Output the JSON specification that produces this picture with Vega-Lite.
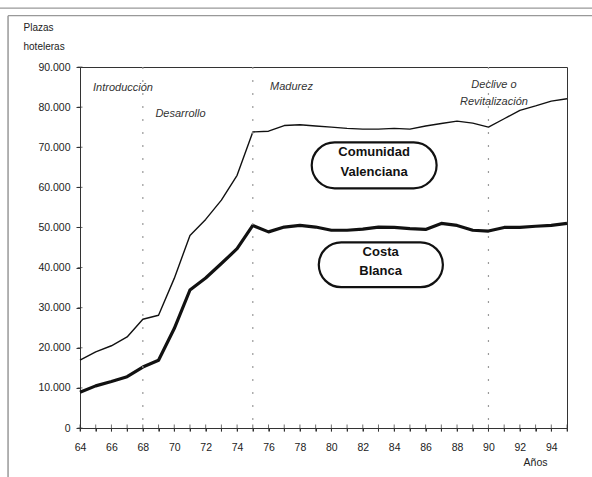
{
  "$schema": "https://vega.github.io/schema/vega-lite/v6.json",
  "width": 487,
  "height": 361,
  "autosize": {"type": "none"},
  "padding": {"left": 80, "top": 67, "right": 25, "bottom": 49},
  "background": "white",
  "config": {
    "view": {"stroke": "#333", "strokeWidth": 1},
    "font": "Liberation Sans",
    "axis": {"domainColor": "#333", "tickColor": "#333", "labelColor": "#222", "titleColor": "#222", "grid": false, "labelOverlap": false}
  },
  "datasets": {
    "series": [
      {"year": 64, "region": "Comunidad Valenciana", "plazas": 16900},
      {"year": 65, "region": "Comunidad Valenciana", "plazas": 19000},
      {"year": 66, "region": "Comunidad Valenciana", "plazas": 20500},
      {"year": 67, "region": "Comunidad Valenciana", "plazas": 22700},
      {"year": 68, "region": "Comunidad Valenciana", "plazas": 27100},
      {"year": 69, "region": "Comunidad Valenciana", "plazas": 28100},
      {"year": 70, "region": "Comunidad Valenciana", "plazas": 37300},
      {"year": 71, "region": "Comunidad Valenciana", "plazas": 48000},
      {"year": 72, "region": "Comunidad Valenciana", "plazas": 52000},
      {"year": 73, "region": "Comunidad Valenciana", "plazas": 56800},
      {"year": 74, "region": "Comunidad Valenciana", "plazas": 63000},
      {"year": 75, "region": "Comunidad Valenciana", "plazas": 73800},
      {"year": 76, "region": "Comunidad Valenciana", "plazas": 74000},
      {"year": 77, "region": "Comunidad Valenciana", "plazas": 75400},
      {"year": 78, "region": "Comunidad Valenciana", "plazas": 75600},
      {"year": 79, "region": "Comunidad Valenciana", "plazas": 75300},
      {"year": 80, "region": "Comunidad Valenciana", "plazas": 75000},
      {"year": 81, "region": "Comunidad Valenciana", "plazas": 74700},
      {"year": 82, "region": "Comunidad Valenciana", "plazas": 74500},
      {"year": 83, "region": "Comunidad Valenciana", "plazas": 74500},
      {"year": 84, "region": "Comunidad Valenciana", "plazas": 74700},
      {"year": 85, "region": "Comunidad Valenciana", "plazas": 74500},
      {"year": 86, "region": "Comunidad Valenciana", "plazas": 75300},
      {"year": 87, "region": "Comunidad Valenciana", "plazas": 75900},
      {"year": 88, "region": "Comunidad Valenciana", "plazas": 76500},
      {"year": 89, "region": "Comunidad Valenciana", "plazas": 76000},
      {"year": 90, "region": "Comunidad Valenciana", "plazas": 75000},
      {"year": 91, "region": "Comunidad Valenciana", "plazas": 77100},
      {"year": 92, "region": "Comunidad Valenciana", "plazas": 79200},
      {"year": 93, "region": "Comunidad Valenciana", "plazas": 80300},
      {"year": 94, "region": "Comunidad Valenciana", "plazas": 81500},
      {"year": 95, "region": "Comunidad Valenciana", "plazas": 82100},
      {"year": 64, "region": "Costa Blanca", "plazas": 8900},
      {"year": 65, "region": "Costa Blanca", "plazas": 10500},
      {"year": 66, "region": "Costa Blanca", "plazas": 11600},
      {"year": 67, "region": "Costa Blanca", "plazas": 12800},
      {"year": 68, "region": "Costa Blanca", "plazas": 15200},
      {"year": 69, "region": "Costa Blanca", "plazas": 16900},
      {"year": 70, "region": "Costa Blanca", "plazas": 24800},
      {"year": 71, "region": "Costa Blanca", "plazas": 34400},
      {"year": 72, "region": "Costa Blanca", "plazas": 37400},
      {"year": 73, "region": "Costa Blanca", "plazas": 41000},
      {"year": 74, "region": "Costa Blanca", "plazas": 44700},
      {"year": 75, "region": "Costa Blanca", "plazas": 50500},
      {"year": 76, "region": "Costa Blanca", "plazas": 48900},
      {"year": 77, "region": "Costa Blanca", "plazas": 50100},
      {"year": 78, "region": "Costa Blanca", "plazas": 50500},
      {"year": 79, "region": "Costa Blanca", "plazas": 50100},
      {"year": 80, "region": "Costa Blanca", "plazas": 49300},
      {"year": 81, "region": "Costa Blanca", "plazas": 49300},
      {"year": 82, "region": "Costa Blanca", "plazas": 49600},
      {"year": 83, "region": "Costa Blanca", "plazas": 50100},
      {"year": 84, "region": "Costa Blanca", "plazas": 50000},
      {"year": 85, "region": "Costa Blanca", "plazas": 49700},
      {"year": 86, "region": "Costa Blanca", "plazas": 49500},
      {"year": 87, "region": "Costa Blanca", "plazas": 51000},
      {"year": 88, "region": "Costa Blanca", "plazas": 50500},
      {"year": 89, "region": "Costa Blanca", "plazas": 49300},
      {"year": 90, "region": "Costa Blanca", "plazas": 49100},
      {"year": 91, "region": "Costa Blanca", "plazas": 50000},
      {"year": 92, "region": "Costa Blanca", "plazas": 50000},
      {"year": 93, "region": "Costa Blanca", "plazas": 50300},
      {"year": 94, "region": "Costa Blanca", "plazas": 50500},
      {"year": 95, "region": "Costa Blanca", "plazas": 51000}
    ],
    "years": [
      {"year": 64}, {"year": 65}, {"year": 66}, {"year": 67}, {"year": 68}, {"year": 69}, {"year": 70}, {"year": 71},
      {"year": 72}, {"year": 73}, {"year": 74}, {"year": 75}, {"year": 76}, {"year": 77}, {"year": 78}, {"year": 79},
      {"year": 80}, {"year": 81}, {"year": 82}, {"year": 83}, {"year": 84}, {"year": 85}, {"year": 86}, {"year": 87},
      {"year": 88}, {"year": 89}, {"year": 90}, {"year": 91}, {"year": 92}, {"year": 93}, {"year": 94}, {"year": 95}
    ],
    "levels": [
      {"plazas": 0}, {"plazas": 10000}, {"plazas": 20000}, {"plazas": 30000}, {"plazas": 40000},
      {"plazas": 50000}, {"plazas": 60000}, {"plazas": 70000}, {"plazas": 80000}, {"plazas": 90000}
    ],
    "phases": [
      {"year": 68},
      {"year": 75},
      {"year": 90}
    ],
    "one": [{}]
  },
  "data": {"name": "series"},
  "layer": [
    {
      "mark": {"type": "line", "interpolate": "linear", "strokeJoin": "round"},
      "encoding": {
        "x": {
          "field": "year",
          "type": "quantitative",
          "scale": {"domain": [64, 95], "nice": false, "zero": false},
          "axis": {
            "values": [64, 65, 66, 67, 68, 69, 70, 71, 72, 73, 74, 75, 76, 77, 78, 79, 80, 81, 82, 83, 84, 85, 86, 87, 88, 89, 90, 91, 92, 93, 94, 95],
            "tickCount": 100,
            "labelExpr": "datum.value % 2 == 0 ? format(datum.value, 'd') : ''",
            "tickSize": 3,
            "labelPadding": 11,
            "labelFontSize": 10.5,
            "labelFont": "Liberation Sans",
            "labelFlush": false,
            "labelOverlap": false,
            "title": "Años",
            "titleFont": "Liberation Sans",
            "titleFontSize": 10.5,
            "titleFontWeight": "normal",
            "titleX": 467,
            "titleY": 34,
            "titleAlign": "right",
            "titleBaseline": "middle"
          }
        },
        "y": {
          "field": "plazas",
          "type": "quantitative",
          "scale": {"domain": [0, 90000], "nice": false},
          "axis": {
            "values": [0, 10000, 20000, 30000, 40000, 50000, 60000, 70000, 80000, 90000],
            "tickCount": 100,
            "labelExpr": "datum.value == 0 ? '0' : replace(format(datum.value, ','), ',', '.')",
            "tickSize": 4,
            "labelPadding": 6,
            "labelFontSize": 10.5,
            "labelFont": "Liberation Sans",
            "title": ["Plazas", "hoteleras"],
            "titleFont": "Liberation Sans",
            "titleFontSize": 10,
            "titleFontWeight": "normal",
            "titleAngle": 0,
            "titleX": -57,
            "titleY": -45,
            "titleAlign": "left",
            "titleBaseline": "top",
            "titleLineHeight": 19
          }
        },
        "detail": {"field": "region", "type": "nominal"},
        "color": {"field": "region", "type": "nominal", "scale": {"range": ["#111111", "#111111"]}, "legend": null},
        "strokeWidth": {"field": "region", "type": "nominal", "scale": {"domain": ["Comunidad Valenciana", "Costa Blanca"], "range": [1.4, 3.2]}, "legend": null}
      }
    },
    {
      "data": {"name": "years"},
      "mark": {"type": "tick", "orient": "vertical", "size": 7, "thickness": 1, "color": "#333"},
      "encoding": {
        "x": {"field": "year", "type": "quantitative"},
        "y": {"datum": 0}
      }
    },
    {
      "data": {"name": "levels"},
      "mark": {"type": "tick", "orient": "horizontal", "size": 5, "thickness": 1, "color": "#333"},
      "encoding": {
        "x": {"datum": 64},
        "y": {"field": "plazas", "type": "quantitative"}
      }
    },
    {
      "data": {"name": "one"},
      "mark": {"type": "rule", "color": "#999", "strokeWidth": 1.2},
      "encoding": {
        "x": {"datum": 58.9},
        "x2": {"datum": 97.6},
        "y": {"datum": 104700}
      }
    },
    {
      "data": {"name": "one"},
      "mark": {"type": "rule", "color": "#999", "strokeWidth": 1.2},
      "encoding": {
        "x": {"datum": 59.42},
        "x2": {"datum": 97.6},
        "y": {"datum": 102800}
      }
    },
    {
      "data": {"name": "one"},
      "mark": {"type": "rule", "color": "#999", "strokeWidth": 1.5},
      "encoding": {
        "x": {"datum": 59.42},
        "y": {"datum": 102800},
        "y2": {"datum": -13000}
      }
    },
    {
      "data": {"name": "phases"},
      "mark": {"type": "rule", "color": "#9a9a9a", "strokeWidth": 1.2, "strokeDash": [2, 11]},
      "encoding": {
        "x": {"field": "year", "type": "quantitative"}
      }
    },
    {
      "data": {"name": "one"},
      "mark": {"type": "text", "text": "Introducción", "font": "Liberation Sans", "fontStyle": "italic", "fontSize": 11, "color": "#333", "align": "left", "baseline": "middle"},
      "encoding": {"x": {"datum": 64.83}, "y": {"datum": 84700}}
    },
    {
      "data": {"name": "one"},
      "mark": {"type": "text", "text": "Desarrollo", "font": "Liberation Sans", "fontStyle": "italic", "fontSize": 11, "color": "#333", "align": "left", "baseline": "middle"},
      "encoding": {"x": {"datum": 68.8}, "y": {"datum": 78400}}
    },
    {
      "data": {"name": "one"},
      "mark": {"type": "text", "text": "Madurez", "font": "Liberation Sans", "fontStyle": "italic", "fontSize": 11, "color": "#333", "align": "left", "baseline": "middle"},
      "encoding": {"x": {"datum": 76.1}, "y": {"datum": 84900}}
    },
    {
      "data": {"name": "one"},
      "mark": {"type": "text", "text": ["Declive o", "Revitalización"], "lineHeight": 17, "font": "Liberation Sans", "fontStyle": "italic", "fontSize": 11, "color": "#333", "align": "center", "baseline": "top"},
      "encoding": {"x": {"datum": 90.35}, "y": {"datum": 86900}}
    },
    {
      "data": {"name": "one"},
      "mark": {"type": "rect", "cornerRadius": 23, "fill": "white", "stroke": "#111", "strokeWidth": 2.2},
      "encoding": {
        "x": {"datum": 78.75}, "x2": {"datum": 86.7},
        "y": {"datum": 71200}, "y2": {"datum": 59760}
      }
    },
    {
      "data": {"name": "one"},
      "mark": {"type": "rect", "cornerRadius": 23, "fill": "white", "stroke": "#111", "strokeWidth": 2.2},
      "encoding": {
        "x": {"datum": 79.2}, "x2": {"datum": 87.1},
        "y": {"datum": 46300}, "y2": {"datum": 35100}
      }
    },
    {
      "data": {"name": "one"},
      "mark": {"type": "text", "text": ["Comunidad", "Valenciana"], "lineHeight": 20, "font": "Liberation Sans", "fontWeight": "bold", "fontSize": 13, "color": "#111", "align": "center", "baseline": "top"},
      "encoding": {"x": {"datum": 82.72}, "y": {"datum": 70200}}
    },
    {
      "data": {"name": "one"},
      "mark": {"type": "text", "text": ["Costa", "Blanca"], "lineHeight": 19, "font": "Liberation Sans", "fontWeight": "bold", "fontSize": 13, "color": "#111", "align": "center", "baseline": "top"},
      "encoding": {"x": {"datum": 83.14}, "y": {"datum": 45300}}
    }
  ]
}
